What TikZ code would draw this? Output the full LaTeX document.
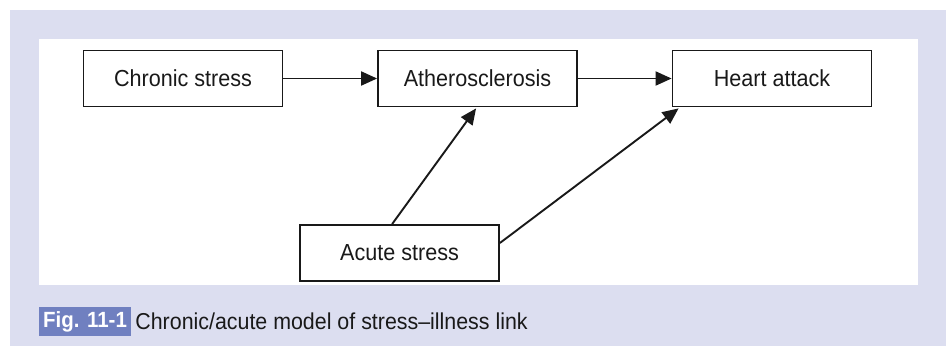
\documentclass[tikz,border=0pt]{standalone}
\usepackage{fontspec}
\setmainfont{Liberation Sans}[FakeStretch=0.93]
\usetikzlibrary{arrows.meta,calc}
\definecolor{lav}{RGB}{220,222,240}
\definecolor{figblue}{RGB}{112,128,192}
\begin{document}
\begin{tikzpicture}[x=1pt,y=-1pt,
  box/.style={draw=black!90,line width=1.8pt,minimum width=199pt,minimum height=56pt,inner sep=0pt,font=\fontsize{23.2}{27}\selectfont,text=black!90},
  link/.style={draw=black!90,line width=1.9pt,-{Triangle[length=16pt,width=14pt]}}]
\useasboundingbox (0,0) rectangle (946,346);
\fill[white] (0,0) rectangle (946,346);
\fill[lav] (10,10) rectangle (946,346);
\fill[white] (39,39) rectangle (918,285);
\node[box] (chronic) at (183,78.5) {Chronic stress};
\node[box] (ather) at (477.5,78.5) {Atherosclerosis};
\node[box] (heart) at (772,78.5) {Heart attack};
\node[box] (acute) at (399.5,253) {Acute stress};
\draw[link] (chronic) -- (ather);
\draw[link] (ather) -- (heart);
\draw[link] ($(acute.north west)+(93,0)$) -- ($(ather.south west)+(99,1)$);
\draw[link] ($(acute.east)+(0,-10)$) -- ($(heart.south west)+(7,1)$);
\node[fill=figblue,text=white,font=\bfseries\fontsize{22}{24}\selectfont,inner sep=0pt,minimum width=92pt,minimum height=29pt] (fig) at (85,321.5) {Fig. 11-1};
\node[anchor=west,inner sep=0pt,font=\fontsize{23}{26}\selectfont,text=black!90] (cap) at ($(fig.east)+(4,0)$) {Chronic/acute model of stress–illness link};
\end{tikzpicture}
\end{document}
